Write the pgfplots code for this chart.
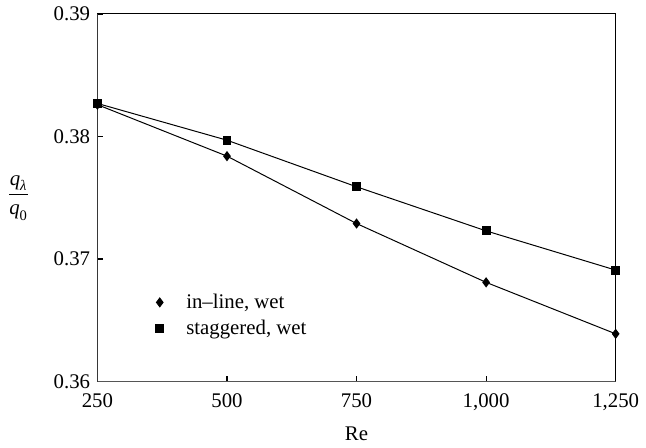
\documentclass[border=0pt]{standalone}
\usepackage{amsmath}
\usepackage{fontspec}
\setmainfont{Liberation Serif}
\usepackage{pgfplots}
\pgfplotsset{compat=1.18}
\definecolor{axisgray}{HTML}{555555}

\begin{document}
\fontsize{10.5}{12.6}\selectfont
\begin{tikzpicture}
\begin{axis}[
  scale only axis, width=261.5pt, height=185.5pt,
  xmin=250, xmax=1250, ymin=0.36, ymax=0.39,
  xtick={250,500,750,1000,1250}, ytick={0.36,0.37,0.38,0.39},
  xtick pos=bottom, ytick pos=left, tick align=inside,
  major tick length=3pt, tick style={black, line width=0.6pt},
  axis line style={black, line width=0.5pt},
  /pgf/number format/assume math mode=true,
  xticklabel style={/pgf/number format/1000 sep={,}, yshift=-2.5pt,
    font=\fontsize{10.5}{12.6}\selectfont},
  yticklabel style={/pgf/number format/fixed, /pgf/number format/precision=2,
    /pgf/number format/fixed zerofill, font=\fontsize{10.5}{12.6}\selectfont},
  xlabel={Re},
  xlabel style={yshift=-1pt},
  ylabel={$\dfrac{\textit{q}_{\textit{λ}}}{\textit{q}_{\text{0}}}$},
  ylabel style={at={(axis description cs:-0.152,0.5)}, rotate=-90, anchor=center},
  legend style={draw=none, fill=none, at={(axis description cs:0.095,0.262)},
    anchor=north west, font=\fontsize{10.5}{12.6}\selectfont,
    row sep=0.5pt, cells={anchor=west}},
  legend image code/.code={\path[draw=none] (0cm,0cm) -- (0.52cm,0cm);
    \draw[#1] plot[only marks] coordinates {(0.12cm,0cm)};},
]
\addplot[black, line width=0.5pt, mark=diamond*, mark size=2.2pt, mark options={solid}]
  coordinates {(250,0.3826) (500,0.3784) (750,0.3729) (1000,0.3681) (1250,0.3639)};
\addlegendentry{in--line, wet}
\addplot[black, line width=0.5pt, mark=square*, mark size=2pt, mark options={solid}]
  coordinates {(250,0.3827) (500,0.3797) (750,0.3759) (1000,0.3723) (1250,0.3691)};
\addlegendentry{staggered, wet}
\draw[axisgray, line width=1pt] (rel axis cs:0,1) -- (rel axis cs:0,0) -- (rel axis cs:1,0);
\end{axis}
\end{tikzpicture}
\end{document}
